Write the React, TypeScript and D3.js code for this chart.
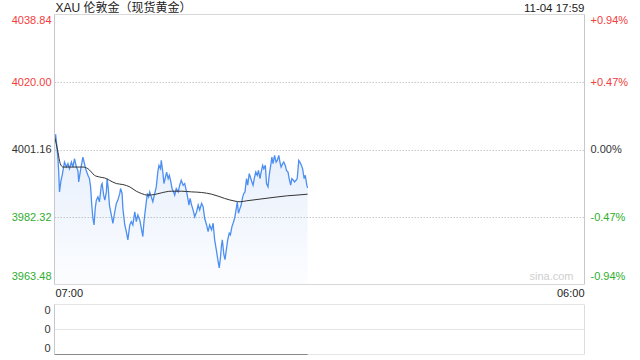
import React from "react";
import * as d3 from "d3";

// minutes since 07:00
const priceMinutes = [0,3,6,9,11,13,17,20,23,26,31,35,39,44,48,52,57,61,63,67,70,74,76,81,84,87,91,94,97,100,103,106,109,113,117,122,124,128,131,135,137,140,143,148,152,157,161,165,170,172,176,178,183,187,191,196,200,204,209,213,217,222,226,230,233,237,239,242,245,248,252,256,261,265,269,272,276,278,282,285,289,292,296,299,303,306,310,313,317,322,326,330,335,339,344,348,350,353,357,361,365,370,374,378,383,387,391,396,400,404,409,413,417,422,426,429,432,435,437,441,444,448,451,455,458,462,465,469,472,476,479,483,486,490,493,496,500,503,507,510,514,517,521,524,528,531,535,538,542,545,549,552,556,559,563,566,569,573,577,580,584,587,590,594,597,601,604,608,611,615,618,622,625,629,632,636,639,643,646,650,653,657,659];
const priceValues = [4005.04,4005.23,4002.27,3998.58,3994.87,3989.33,3992.57,3993.96,3995.81,3997.64,3996.26,3997.20,3995.81,3997.64,3996.26,3998.58,3996.26,3995.34,3992.10,3994.87,3996.73,3999.03,3998.11,3995.81,3994.87,3993.96,3993.04,3990.72,3985.65,3981.96,3980.10,3984.73,3987.03,3987.94,3986.56,3991.19,3991.66,3988.42,3987.03,3989.33,3993.04,3990.27,3985.65,3982.87,3980.57,3983.79,3986.12,3987.03,3988.89,3990.27,3988.89,3984.73,3980.10,3978.25,3975.95,3980.10,3981.02,3980.10,3983.79,3981.02,3982.87,3981.49,3979.19,3976.86,3981.02,3984.73,3986.56,3988.89,3987.94,3989.33,3987.94,3986.56,3988.89,3990.72,3994.87,3996.73,3995.81,3998.11,3994.87,3991.66,3993.49,3994.87,3993.04,3993.96,3992.10,3990.27,3989.33,3988.42,3990.27,3989.33,3991.19,3992.57,3991.19,3991.66,3989.33,3987.03,3985.65,3987.50,3985.65,3984.26,3982.40,3983.79,3985.65,3984.26,3986.12,3985.17,3981.96,3980.10,3978.25,3980.10,3978.72,3980.57,3975.95,3972.71,3969.94,3968.11,3970.88,3974.56,3975.95,3971.79,3970.41,3973.65,3975.95,3977.80,3977.33,3979.63,3980.57,3981.96,3983.79,3986.56,3983.35,3984.73,3985.65,3987.94,3988.89,3989.33,3993.04,3991.19,3994.43,3993.49,3992.10,3991.19,3993.49,3994.87,3993.96,3995.34,3993.04,3994.87,3996.73,3995.81,3996.73,3991.66,3990.72,3993.96,3996.73,3999.03,3997.20,3999.50,3997.64,3998.11,3999.50,3997.64,3996.26,3997.20,3997.64,3996.73,3995.34,3994.87,3993.04,3991.19,3993.04,3992.57,3992.10,3992.57,3993.04,3998.11,3997.64,3996.73,3995.81,3993.04,3993.96,3991.19,3990.44];

const avgMinutes = [0,9,15,22,39,74,87,96,104,117,135,143,161,178,196,213,226,243,261,278,304,330,357,383,409,426,443,470,483,500,535,569,604,639,659];
const avgValues = [4005.04,4000.41,3997.20,3996.26,3996.26,3996.26,3995.81,3994.87,3993.96,3993.49,3993.04,3992.57,3991.66,3991.38,3990.72,3989.52,3988.89,3988.42,3988.61,3989.05,3989.52,3989.52,3989.33,3989.16,3988.69,3988.14,3987.50,3986.75,3986.56,3986.84,3987.31,3987.78,3988.22,3988.50,3988.69];

const priceTicks = [4038.84, 4020.0, 4001.16, 3982.32, 3963.48];
const pctTicks = ["+0.94%", "+0.47%", "0.00%", "-0.47%", "-0.94%"];
const timeLabels = ["07:00", "06:00"];
const volTicks = ["0", "0", "0"];
const title = "XAU 伦敦金（现货黄金）";
const stamp = "11-04 17:59";

const W = 640, H = 360;
const L = 54.5, R = 584.5, T = 14.5, B = 284.5;
const VT = 304.5, VB = 354.5;

export default function App() {
  const x = d3.scaleLinear().domain([0, 1380]).range([L, R]);
  const y = d3.scaleLinear().domain([3963.48, 4038.84]).range([B, T]);
  const vy = d3.scaleLinear().domain([0, 2]).range([VB, VT]);

  const pts = priceMinutes.map((m, i) => [m, priceValues[i]] as [number, number]);
  const avg = avgMinutes.map((m, i) => [m, avgValues[i]] as [number, number]);

  const line = d3.line<[number, number]>().x(d => x(d[0])).y(d => y(d[1]));
  const area = d3.area<[number, number]>().x(d => x(d[0])).y0(B).y1(d => y(d[1]));
  const avgLine = d3.line<[number, number]>().x(d => x(d[0])).y(d => y(d[1])).curve(d3.curveMonotoneX);

  const color = (i: number) => (i < 2 ? "#f23d3d" : i === 2 ? "#333" : "#2eae2e");
  const font = "Arial, 'Liberation Sans', 'Noto Sans CJK SC', sans-serif";
  const lastM = priceMinutes[priceMinutes.length - 1];

  return (
    <svg width={W} height={H} style={{ position: "absolute", left: 0, top: 0, background: "#fff" }} fontFamily={font}>
      <defs>
        <linearGradient id="fillg" x1="0" y1={y(4006)} x2="0" y2={B} gradientUnits="userSpaceOnUse">
          <stop offset="0" stopColor="#5b93ea" stopOpacity={0.16} />
          <stop offset="1" stopColor="#5b93ea" stopOpacity={0.02} />
        </linearGradient>
      </defs>
      <text x={L + 1} y={12} fontSize={12} fill="#222">{title}</text>
      <text x={R} y={12} fontSize={11.5} fill="#222" textAnchor="end">{stamp}</text>

      {priceTicks.slice(1, 4).map((v, i) => (
        <line key={"g" + i} x1={L} x2={R} y1={Math.round(y(v)) + 0.5} y2={Math.round(y(v)) + 0.5} stroke="#c8c8c8" strokeDasharray="1.5,1.5" />
      ))}
      <path d={area(pts) || ""} fill="url(#fillg)" />
      <path d={line(pts) || ""} fill="none" stroke="#4d8ff0" strokeWidth={1.3} />
      <path d={avgLine(avg) || ""} fill="none" stroke="#333" strokeWidth={1} />

      <line x1={L} x2={R} y1={T} y2={T} stroke="#d8d8d8" />
      <line x1={L} x2={L} y1={T} y2={B} stroke="#c8c8c8" />
      <line x1={R} x2={R} y1={T} y2={B} stroke="#c8c8c8" />
      <line x1={L} x2={R} y1={B} y2={B} stroke="#d8d8d8" />

      {priceTicks.map((v, i) => {
        const yy = i === 0 ? y(v) + 6 : i === 4 ? y(v) - 8 : y(v);
        return (
          <g key={"t" + i}>
            <text x={L - 3} y={yy} dy="0.35em" fontSize={11} fill={color(i)} textAnchor="end">{v.toFixed(2)}</text>
            <text x={R + 6} y={yy} dy="0.35em" fontSize={11} fill={color(i)}>{pctTicks[i]}</text>
          </g>
        );
      })}
      <text x={R - 11} y={B - 5} fontSize={11} fill="#cfcfcf" textAnchor="end">sina.com</text>

      <text x={L + 1} y={297} fontSize={11} fill="#222">{timeLabels[0]}</text>
      <text x={R} y={297} fontSize={11} fill="#222" textAnchor="end">{timeLabels[1]}</text>

      {[2, 1, 0].map((v, i) => (
        <line key={"v" + i} x1={L} x2={R} y1={vy(v)} y2={vy(v)} stroke="#c8c8c8" strokeDasharray="1,1" />
      ))}
      <line x1={L} x2={x(lastM)} y1={VB} y2={VB} stroke="#888" />
      <line x1={L} x2={L} y1={VT} y2={VB} stroke="#c8c8c8" />
      <line x1={R} x2={R} y1={VT} y2={VB} stroke="#dcdcdc" />
      {volTicks.map((t, i) => (
        <text key={"vt" + i} x={L - 4} y={[310, 329, 348][i]} dy="0.35em" fontSize={11} fill="#333" textAnchor="end">{t}</text>
      ))}
    </svg>
  );
}
